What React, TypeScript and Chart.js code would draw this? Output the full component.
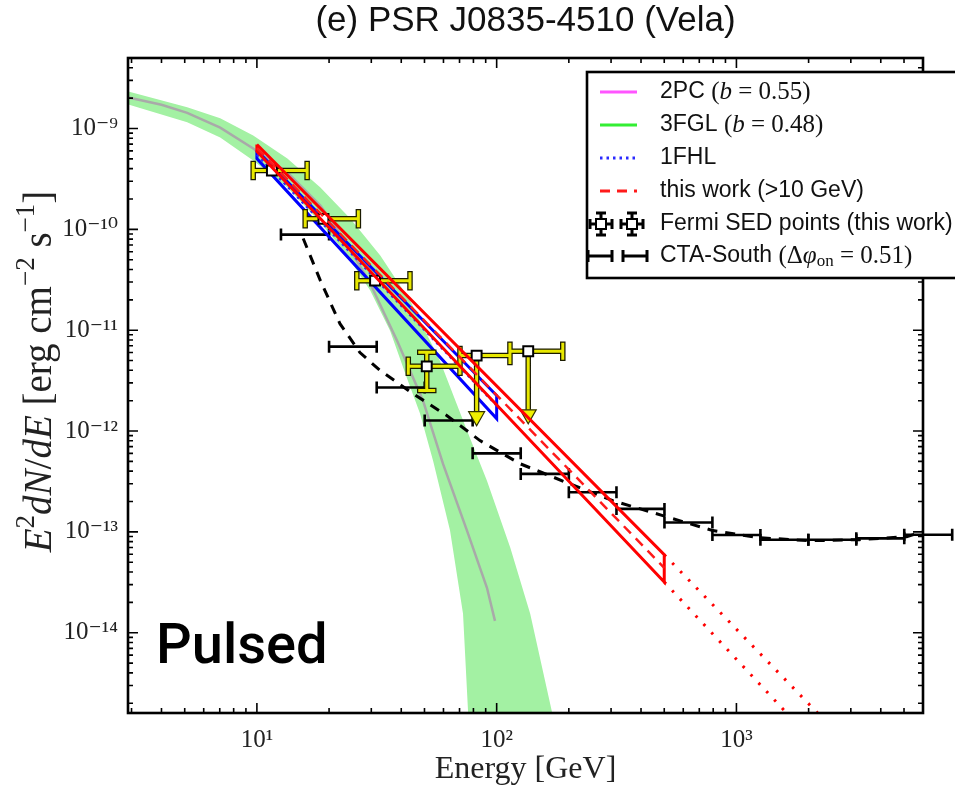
import React, { useEffect, useRef } from 'react';
import { Chart, registerables } from 'chart.js';

Chart.register(...registerables);

// ---------- axes ----------
const X_MIN = 2.9;
const X_MAX = 6000;
const Y_MIN = 1.6e-15;
const Y_MAX = 5e-9;

const xTickValues = [10, 100, 1000];
const xTickLabels = ['10¹', '10²', '10³'];
const yTickValues = [1e-9, 1e-10, 1e-11, 1e-12, 1e-13, 1e-14];
const yTickLabels = ['10⁻⁹', '10⁻¹⁰', '10⁻¹¹', '10⁻¹²', '10⁻¹³', '10⁻¹⁴'];

// ---------- 3FGL band (b = 0.48) ----------
const fglUpperE = [2.91, 5.12, 7.03, 9.65, 13.4, 18.4, 24.5, 32.7, 43.5, 58.0, 75.2, 91.1, 114, 138, 177];
const fglUpperF = [2.33e-9, 1.62e-9, 1.26e-9, 8.52e-10, 5.03e-10, 2.6e-10, 1.28e-10, 5.5e-11, 1.97e-11, 4.99e-12, 1.01e-12, 3.22e-13, 6.97e-14, 1.54e-14, 1.07e-15];
const fglLowerE = [2.91, 5.12, 7.03, 9.65, 13.4, 18.4, 23.3, 29.7, 35.9, 42.3, 47.9, 54.3, 63.9, 72.4, 76.7];
const fglLowerF = [1.73e-9, 1.15e-9, 8.14e-10, 4.82e-10, 2.6e-10, 1.17e-10, 5.89e-11, 2.47e-11, 9.91e-12, 3.31e-12, 1.49e-12, 5.08e-13, 1.03e-13, 1.54e-14, 1.07e-15];
const fglMidE = [2.91, 4.0, 5.12, 7.03, 9.65, 13.4, 18.4, 23.3, 29.7, 38.4, 49.3, 59.7, 75.2, 91.1, 98.4];
const fglMidF = [2.03e-9, 1.72e-9, 1.43e-9, 1.02e-9, 6.34e-10, 3.66e-10, 1.72e-10, 7.74e-11, 2.9e-11, 7.88e-12, 2.0e-12, 4.75e-13, 1.03e-13, 2.79e-14, 1.31e-14];

// ---------- 1FHL butterfly ----------
const fhlE = [10, 100];
const fhlUpperF = [6.05e-10, 2.25e-12];
const fhlLowerF = [5.03e-10, 1.33e-12];
const fhlMidF = [5.52e-10, 1.79e-12];

// ---------- this work (>10 GeV) butterfly ----------
const twE = [10, 500];
const twUpperF = [6.93e-10, 5.94e-14];
const twLowerF = [5.91e-10, 3.18e-14];
const twMidF = [6.4e-10, 4.4e-14];
const twExtUpperE = [500, 2180];
const twExtUpperF = [5.94e-14, 1.6e-15];
const twExtLowerE = [500, 1620];
const twExtLowerF = [3.18e-14, 1.6e-15];

// ---------- Fermi SED points (this work) ----------
const sedE = [11.55, 18.95, 31.1, 51.1, 82.5, 135.4];
const sedF = [3.83e-10, 1.27e-10, 3.1e-11, 4.38e-12, 5.6e-12, 6.18e-12];
const sedElo = [9.65, 15.9, 26.1, 42.8, 70.3, 113.6];
const sedEhi = [16.2, 26.5, 43.5, 70.3, 113.6, 188.7];
const sedFlo = [null, null, null, 2.52e-12, 1.13e-12, 1.18e-12];
const sedFhi = [null, null, null, 6.04e-12, null, null];
const sedUL = [false, false, false, false, true, true];

// ---------- CTA-South ----------
const ctaE = [15.8, 25.1, 39.8, 63.1, 100, 158, 251, 398, 631, 1000, 1585, 2512, 3981, 6310];
const ctaElo = [12.6, 20.0, 31.6, 50.1, 79.4, 126, 200, 316, 501, 794, 1259, 1995, 3162, 5012];
const ctaEhi = [20.0, 31.6, 50.1, 79.4, 126, 200, 316, 501, 794, 1259, 1995, 3162, 5012, 7943];
const ctaF = [8.87e-11, 6.87e-12, 2.7e-12, 1.27e-12, 6.01e-13, 3.76e-13, 2.47e-13, 1.69e-13, 1.24e-13, 9.31e-14, 8.37e-14, 8.37e-14, 8.63e-14, 9.38e-14];
const ctaModelE = [15.6, 18.4, 22.2, 26.9, 32.7, 44.8, 62.1, 85.2, 125, 196, 305, 493, 797, 1251, 2021, 3265, 5124, 5975];
const ctaModelF = [8.11e-11, 3.1e-11, 1.16e-11, 6.0e-12, 3.97e-12, 2.35e-12, 1.42e-12, 8.04e-13, 4.75e-13, 3.08e-13, 2.04e-13, 1.45e-13, 1.03e-13, 8.75e-14, 8.18e-14, 8.37e-14, 8.96e-14, 1.0e-13];

// ---------- text ----------
const TITLE = '(e) PSR J0835-4510 (Vela)';
const X_TITLE = 'Energy [GeV]';
const ANNOTATION = 'Pulsed';

const SANS = '"Liberation Sans", Arial, Helvetica, sans-serif';
const SERIF = '"Liberation Serif", "DejaVu Serif", "Times New Roman", serif';

const pts = (xs: number[], ys: number[]) => xs.map((x, i) => ({ x, y: ys[i] }));

function logTickList(min: number, max: number) {
  const out: { v: number; major: boolean }[] = [];
  for (let d = Math.floor(Math.log10(min)); d <= Math.ceil(Math.log10(max)); d++) {
    for (let k = 1; k <= 9; k++) {
      const v = k * Math.pow(10, d);
      if (v >= min && v <= max) out.push({ v, major: k === 1 });
    }
  }
  return out;
}

function labelFor(values: number[], labels: string[], value: number) {
  const i = values.findIndex((v) => Math.abs(Math.log10(v) - Math.log10(value)) < 1e-6);
  return i >= 0 ? labels[i] : '';
}

const errorBarPlugin = {
  id: 'errorBars',
  afterDatasetDraw(chart: any, args: any) {
    const label = chart.data.datasets[args.index].label;
    const { ctx, scales } = chart;
    const xs = scales.x;
    const ys = scales.y;
    if (label === 'CTA-South') {
      ctx.save();
      ctx.strokeStyle = '#000';
      ctx.lineWidth = 2.6;
      for (let i = 0; i < ctaE.length; i++) {
        const y = ys.getPixelForValue(ctaF[i]);
        const x1 = xs.getPixelForValue(ctaElo[i]);
        const x2 = xs.getPixelForValue(ctaEhi[i]);
        ctx.beginPath();
        ctx.moveTo(x1, y);
        ctx.lineTo(x2, y);
        ctx.moveTo(x1, y - 6);
        ctx.lineTo(x1, y + 6);
        ctx.moveTo(x2, y - 6);
        ctx.lineTo(x2, y + 6);
        ctx.stroke();
      }
      ctx.restore();
    }
  },
  beforeDatasetDraw(chart: any, args: any) {
    const label = chart.data.datasets[args.index].label;
    if (label !== 'Fermi SED points (this work)') return;
    const { ctx, scales } = chart;
    const xs = scales.x;
    const ys = scales.y;
    const segs: number[][] = [];
    const heads: number[][] = [];
    for (let i = 0; i < sedE.length; i++) {
      const px = xs.getPixelForValue(sedE[i]);
      const py = ys.getPixelForValue(sedF[i]);
      const x1 = xs.getPixelForValue(sedElo[i]);
      const x2 = xs.getPixelForValue(sedEhi[i]);
      segs.push([x1, py, x2, py], [x1, py - 7, x1, py + 7], [x2, py - 7, x2, py + 7]);
      if (sedUL[i] && sedFlo[i] != null) {
        const yt = ys.getPixelForValue(sedFlo[i] as number);
        segs.push([px, py, px, yt - 12]);
        heads.push([px, yt]);
      } else if (sedFlo[i] != null && sedFhi[i] != null) {
        const ylo = ys.getPixelForValue(sedFlo[i] as number);
        const yhi = ys.getPixelForValue(sedFhi[i] as number);
        segs.push([px, yhi, px, ylo], [px - 7, yhi, px + 7, yhi], [px - 7, ylo, px + 7, ylo]);
      }
    }
    ctx.save();
    const pass = (color: string, w: number) => {
      ctx.strokeStyle = color;
      ctx.lineWidth = w;
      ctx.lineCap = 'square';
      ctx.beginPath();
      for (const s of segs) {
        ctx.moveTo(s[0], s[1]);
        ctx.lineTo(s[2], s[3]);
      }
      ctx.stroke();
    };
    pass('#1a1a00', 5.5);
    pass('#e8e800', 3);
    for (const h of heads) {
      ctx.beginPath();
      ctx.moveTo(h[0] - 8, h[1] - 14);
      ctx.lineTo(h[0] + 8, h[1] - 14);
      ctx.lineTo(h[0], h[1]);
      ctx.closePath();
      ctx.fillStyle = '#f0f000';
      ctx.fill();
      ctx.strokeStyle = '#333300';
      ctx.lineWidth = 1.2;
      ctx.stroke();
    }
    ctx.restore();
  },
};

function richWidth(ctx: CanvasRenderingContext2D, parts: any[]) {
  let w = 0;
  for (const p of parts) {
    ctx.font = p[1];
    w += ctx.measureText(p[0]).width;
  }
  return w;
}

function drawRich(ctx: CanvasRenderingContext2D, x: number, y: number, parts: any[]) {
  let cx = x;
  for (const p of parts) {
    ctx.font = p[1];
    ctx.fillText(p[0], cx, y + (p[2] || 0));
    cx += ctx.measureText(p[0]).width;
  }
}

// y-axis label with mixed italic / upright math-like parts
const yTitleParts = [
  ['E', `italic 39px ${SERIF}`],
  ['2', `27px ${SERIF}`, -14],
  ['dN', `italic 39px ${SERIF}`],
  ['/', `39px ${SERIF}`],
  ['dE', `italic 39px ${SERIF}`],
  [' [erg cm', `39px ${SERIF}`],
  ['−2', `27px ${SERIF}`, -14],
  [' s', `39px ${SERIF}`],
  ['−1', `27px ${SERIF}`, -14],
  [']', `39px ${SERIF}`],
];

const framePlugin = {
  id: 'frameAndLegend',
  afterDraw(chart: any) {
    const { ctx, chartArea: a, scales } = chart;
    const xs = scales.x;
    const ys = scales.y;
    ctx.save();
    // inward ticks on all four sides
    ctx.strokeStyle = '#000';
    ctx.lineWidth = 1.6;
    ctx.beginPath();
    for (const t of logTickList(X_MIN, X_MAX)) {
      const px = xs.getPixelForValue(t.v);
      const len = t.major ? 10 : 5;
      ctx.moveTo(px, a.bottom);
      ctx.lineTo(px, a.bottom - len);
      ctx.moveTo(px, a.top);
      ctx.lineTo(px, a.top + len);
    }
    for (const t of logTickList(Y_MIN, Y_MAX)) {
      const py = ys.getPixelForValue(t.v);
      const len = t.major ? 10 : 5;
      ctx.moveTo(a.left, py);
      ctx.lineTo(a.left + len, py);
      ctx.moveTo(a.right, py);
      ctx.lineTo(a.right - len, py);
    }
    ctx.stroke();
    ctx.lineWidth = 2.6;
    ctx.strokeRect(a.left, a.top, a.right - a.left, a.bottom - a.top);

    // y-axis title (rotated)
    ctx.save();
    ctx.fillStyle = '#222';
    ctx.textBaseline = 'middle';
    ctx.translate(41, (a.top + a.bottom) / 2 - 14);
    ctx.rotate(-Math.PI / 2);
    const w = richWidth(ctx, yTitleParts);
    drawRich(ctx, -w / 2, 0, yTitleParts);
    ctx.restore();

    // annotation
    ctx.fillStyle = '#000';
    ctx.textBaseline = 'alphabetic';
    ctx.font = `500 56px Roboto, ${SANS}`;
    ctx.fillText(ANNOTATION, 156, 663);

    // legend
    const bx = 587;
    const by = 72;
    ctx.fillStyle = '#fff';
    ctx.fillRect(bx, by, 420, 206);
    ctx.strokeStyle = '#000';
    ctx.lineWidth = 2.6;
    ctx.strokeRect(bx, by, 420, 206);

    const rowY = [92, 125, 158, 191, 224, 256];
    const sx1 = 600;
    const sx2 = 637;
    const tx = 660;
    const lineSample = (y: number, color: string, dash: number[]) => {
      ctx.save();
      ctx.strokeStyle = color;
      ctx.lineWidth = 3;
      ctx.setLineDash(dash);
      ctx.beginPath();
      ctx.moveTo(sx1, y);
      ctx.lineTo(sx2, y);
      ctx.stroke();
      ctx.restore();
    };
    lineSample(rowY[0], '#ff55ff', []);
    lineSample(rowY[1], '#33ee33', []);
    lineSample(rowY[2], '#2a2aff', [2.5, 4]);
    lineSample(rowY[3], '#ff1a1a', [10, 7]);

    // Fermi glyphs
    for (const cx of [601, 632]) {
      const cy = rowY[4];
      ctx.strokeStyle = '#000';
      ctx.lineWidth = 3;
      ctx.beginPath();
      ctx.moveTo(cx - 11, cy); ctx.lineTo(cx + 11, cy);
      ctx.moveTo(cx, cy - 11); ctx.lineTo(cx, cy + 11);
      ctx.moveTo(cx - 11, cy - 5); ctx.lineTo(cx - 11, cy + 5);
      ctx.moveTo(cx + 11, cy - 5); ctx.lineTo(cx + 11, cy + 5);
      ctx.moveTo(cx - 5, cy - 11); ctx.lineTo(cx + 5, cy - 11);
      ctx.moveTo(cx - 5, cy + 11); ctx.lineTo(cx + 5, cy + 11);
      ctx.stroke();
      ctx.fillStyle = '#fff';
      ctx.fillRect(cx - 5, cy - 5, 10, 10);
      ctx.lineWidth = 2;
      ctx.strokeRect(cx - 5, cy - 5, 10, 10);
    }
    // CTA glyphs
    for (const cx of [600, 635]) {
      const cy = rowY[5];
      ctx.strokeStyle = '#000';
      ctx.lineWidth = 3;
      ctx.beginPath();
      ctx.moveTo(cx - 12, cy); ctx.lineTo(cx + 12, cy);
      ctx.moveTo(cx - 12, cy - 6); ctx.lineTo(cx - 12, cy + 6);
      ctx.moveTo(cx + 12, cy - 6); ctx.lineTo(cx + 12, cy + 6);
      ctx.stroke();
    }

    ctx.fillStyle = '#111';
    ctx.textBaseline = 'middle';
    const sans = `23px ${SANS}`;
    const serif = `25px ${SERIF}`;
    const serifI = `italic 25px ${SERIF}`;
    drawRich(ctx, tx, rowY[0], [['2PC ', sans], ['(', serif], ['b', serifI], [' = 0.55)', serif]]);
    drawRich(ctx, tx, rowY[1], [['3FGL ', sans], ['(', serif], ['b', serifI], [' = 0.48)', serif]]);
    drawRich(ctx, tx, rowY[2], [['1FHL', sans]]);
    drawRich(ctx, tx, rowY[3], [['this work (>10 GeV)', sans]]);
    drawRich(ctx, tx, rowY[4], [['Fermi SED points (this work)', sans]]);
    drawRich(ctx, tx, rowY[5], [['CTA-South ', sans], ['(Δ', serif], ['φ', serifI], ['on', `17px ${SERIF}`, 6], [' = 0.51)', serif]]);
    ctx.restore();
  },
};

export default function App() {
  const canvasRef = useRef<HTMLCanvasElement | null>(null);

  useEffect(() => {
    if (!canvasRef.current) return;
    const fglPolygon = [...pts(fglUpperE, fglUpperF), ...pts(fglLowerE, fglLowerF).reverse()];
    const outline = (xs: number[], up: number[], lo: number[]) => [
      { x: xs[0], y: up[0] },
      { x: xs[1], y: up[1] },
      { x: xs[1], y: lo[1] },
      { x: xs[0], y: lo[0] },
      { x: xs[0], y: up[0] },
    ];
    const line = { pointRadius: 0, pointHoverRadius: 0, fill: false, tension: 0 };

    const chart = new Chart(canvasRef.current, {
      type: 'line',
      data: {
        datasets: [
          { ...line, label: '3FGL band', data: fglPolygon, borderWidth: 0, borderColor: 'rgba(0,0,0,0)', backgroundColor: '#a3f1a3', fill: 'shape', order: 20 },
          { ...line, label: '3FGL', data: pts(fglMidE, fglMidF), borderColor: '#a9a9a9', borderWidth: 2.5, order: 19 },
          { ...line, label: 'CTA model', data: pts(ctaModelE, ctaModelF), borderColor: '#000', borderWidth: 3, borderDash: [10, 8], order: 18 },
          { ...line, label: 'CTA-South', data: pts(ctaE, ctaF), showLine: false, borderColor: '#000', order: 17 },
          { ...line, label: '1FHL band', data: outline(fhlE, fhlUpperF, fhlLowerF), borderColor: '#0000ff', borderWidth: 3, borderJoinStyle: 'miter', order: 16 },
          { ...line, label: '1FHL', data: pts(fhlE, fhlMidF), borderColor: '#2a2aff', borderWidth: 2.5, borderDash: [2.5, 4], order: 15 },
          {
            label: 'Fermi SED points (this work)',
            data: pts(sedE, sedF),
            showLine: false,
            pointStyle: 'rect',
            pointRadius: 7,
            pointHoverRadius: 7,
            pointBackgroundColor: '#fff',
            pointBorderColor: '#000',
            pointBorderWidth: 2,
            order: 14,
          },
          { ...line, label: 'this work band', data: outline(twE, twUpperF, twLowerF), borderColor: '#ff0000', borderWidth: 3, borderJoinStyle: 'miter', order: 13 },
          { ...line, label: 'this work (>10 GeV)', data: pts(twE, twMidF), borderColor: '#ff1a1a', borderWidth: 2.5, borderDash: [10, 7], order: 12 },
          { ...line, label: 'extrapolation upper', data: pts(twExtUpperE, twExtUpperF), borderColor: '#ff0000', borderWidth: 3, borderDash: [2.5, 9], order: 11 },
          { ...line, label: 'extrapolation lower', data: pts(twExtLowerE, twExtLowerF), borderColor: '#ff0000', borderWidth: 3, borderDash: [2.5, 9], order: 10 },
        ] as any,
      },
      options: {
        animation: false,
        responsive: false,
        devicePixelRatio: 1,
        events: [],
        layout: { padding: { left: 0, right: 32, top: 0, bottom: 0 } },
        plugins: {
          legend: { display: false },
          tooltip: { enabled: false },
          title: {
            display: true,
            text: TITLE,
            fullSize: false,
            color: '#111',
            font: { family: SANS, size: 35, weight: 'normal', lineHeight: 1.2 },
            padding: { top: 0, bottom: 16 },
          },
        },
        scales: {
          x: {
            type: 'logarithmic',
            position: 'bottom',
            min: X_MIN,
            max: X_MAX,
            afterBuildTicks: (s: any) => {
              s.ticks = xTickValues.map((v) => ({ value: v }));
            },
            afterFit: (s: any) => {
              s.height = 76;
            },
            ticks: {
              autoSkip: false,
              maxRotation: 0,
              padding: 12,
              color: '#222',
              font: { family: SERIF, size: 25 },
              callback: (v: any) => labelFor(xTickValues, xTickLabels, Number(v)),
            },
            grid: { display: false, drawTicks: false },
            border: { display: false },
            title: {
              display: true,
              text: X_TITLE,
              color: '#222',
              font: { family: SERIF, size: 32 },
              padding: { top: 0, bottom: 0 },
            },
          },
          y: {
            type: 'logarithmic',
            position: 'left',
            min: Y_MIN,
            max: Y_MAX,
            afterBuildTicks: (s: any) => {
              s.ticks = yTickValues.map((v) => ({ value: v }));
            },
            afterFit: (s: any) => {
              s.width = 128;
            },
            ticks: {
              autoSkip: false,
              padding: 10,
              color: '#222',
              font: { family: SERIF, size: 25 },
              callback: (v: any) => labelFor(yTickValues, yTickLabels, Number(v)),
            },
            grid: { display: false, drawTicks: false },
            border: { display: false },
          },
        },
      } as any,
      plugins: [errorBarPlugin, framePlugin],
    });
    return () => chart.destroy();
  }, []);

  return (
    <div style={{ position: 'absolute', left: 0, top: 0, width: 955, height: 789, background: '#fff' }}>
      <canvas ref={canvasRef} width={955} height={789} style={{ display: 'block', width: 955, height: 789 }} />
    </div>
  );
}
